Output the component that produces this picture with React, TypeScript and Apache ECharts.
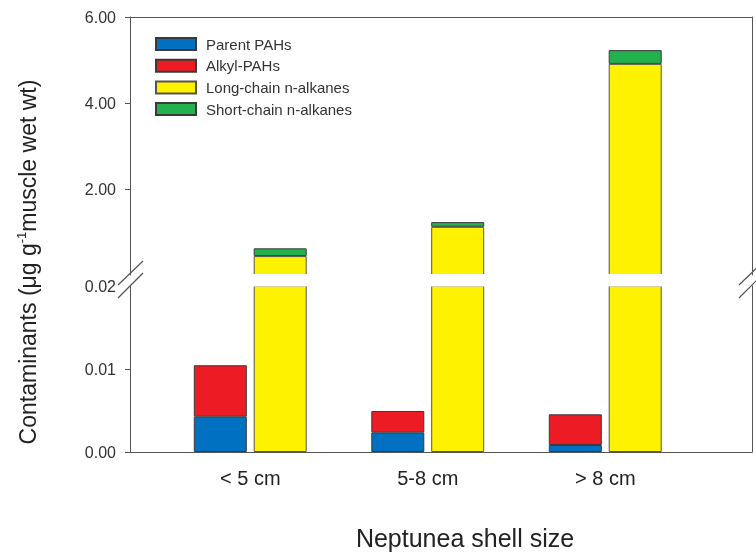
import React, { useEffect, useRef } from 'react';
import * as echarts from 'echarts';

const categories = ['< 5 cm', '5-8 cm', '> 8 cm'];
const parentPAHs = [0.00425, 0.00237, 0.00084];
const alkylPAHs = [0.0062, 0.00257, 0.0037];
const longChain = [0.44, 1.12, 4.91];
const shortChain = [0.18, 0.11, 0.32];
const upperTicks = [2, 4, 6];
const lowerTickMarks = [0, 0.01];
const seriesNames = ['Parent PAHs', 'Alkyl-PAHs', 'Long-chain n-alkanes', 'Short-chain n-alkanes'];
const empty = categories.map(() => '-');

const FONT = '"Liberation Sans", Arial, Helvetica, sans-serif';
const AXIS_COLOR = '#555';
const BORDER = '#3a3a3a';
const COLORS = ['#0070C0', '#ED1C24', '#FFF200', '#22B14C'];

export default function App() {
  const ref = useRef<HTMLDivElement>(null);
  useEffect(() => {
    if (!ref.current) return;
    const chart = echarts.init(ref.current, undefined, { renderer: 'svg' });
    const upperTop = 17, upperH = 258, lowerTop = 286, lowerH = 166;
    const frameLeft = 130, frameRight = 4;
    const barLeft = 161.5, barWidthGrid = 532.5;
    const lineStyle = { color: AXIS_COLOR, width: 1 };
    const hiddenAxis = { show: false };
    const barCommon = (i: number) => ({
      type: 'bar',
      barWidth: 53,
      barGap: '13%',
      clip: true,
      itemStyle: { color: COLORS[i], borderColor: i === 2 ? '#555' : BORDER, borderWidth: 1 },
      emphasis: { disabled: true },
    });
    const option: any = {
      animation: false,
      textStyle: { fontFamily: FONT },
      grid: [
        { left: frameLeft, right: frameRight, top: upperTop, height: upperH },
        { left: frameLeft, right: frameRight, top: lowerTop, height: lowerH },
        { left: barLeft, width: barWidthGrid, top: upperTop, height: upperH },
        { left: barLeft, width: barWidthGrid, top: lowerTop, height: lowerH },
      ],
      xAxis: [
        { gridIndex: 0, type: 'value', min: 0, max: 1, position: 'top', axisLine: { show: true, onZero: false, lineStyle }, axisTick: { show: false }, axisLabel: { show: false }, splitLine: { show: false } },
        { gridIndex: 1, type: 'value', min: 0, max: 1, position: 'bottom', axisLine: { show: true, onZero: false, lineStyle }, axisTick: { show: false }, axisLabel: { show: false }, splitLine: { show: false } },
        { gridIndex: 2, type: 'category', data: categories, ...hiddenAxis },
        { gridIndex: 3, type: 'category', data: categories, axisLine: { show: false }, axisTick: { show: false },
          axisLabel: { margin: 16, fontSize: 20, color: '#222', fontFamily: FONT } },
      ],
      yAxis: [
        { gridIndex: 0, type: 'value', min: 0, max: 6, interval: 2, position: 'left',
          axisLine: { show: true, onZero: false, lineStyle },
          axisTick: { show: true, inside: false, length: 5, lineStyle, customValues: upperTicks },
          axisLabel: { margin: 14, fontSize: 16, color: '#333', fontFamily: FONT, customValues: upperTicks,
            formatter: (v: number) => (v === 0 ? '' : v.toFixed(2)) },
          splitLine: { show: false } },
        { gridIndex: 0, type: 'value', min: 0, max: 6, position: 'right',
          axisLine: { show: true, onZero: false, lineStyle }, axisTick: { show: false }, axisLabel: { show: false }, splitLine: { show: false } },
        { gridIndex: 1, type: 'value', min: 0, max: 0.02, interval: 0.01, position: 'left',
          axisLine: { show: true, onZero: false, lineStyle },
          axisTick: { show: true, inside: false, length: 5, lineStyle, customValues: lowerTickMarks },
          axisLabel: { margin: 14, fontSize: 16, color: '#333', fontFamily: FONT,
            formatter: (v: number) => v.toFixed(2) },
          splitLine: { show: false } },
        { gridIndex: 1, type: 'value', min: 0, max: 0.02, position: 'right',
          axisLine: { show: true, onZero: false, lineStyle }, axisTick: { show: false }, axisLabel: { show: false }, splitLine: { show: false } },
        { gridIndex: 2, type: 'value', min: 0, max: 6, ...hiddenAxis },
        { gridIndex: 3, type: 'value', min: 0, max: 0.02, ...hiddenAxis },
      ],
      legend: {
        data: seriesNames,
        orient: 'vertical',
        left: 150,
        top: 31,
        itemWidth: 40,
        itemHeight: 12,
        itemGap: 5.7,
        icon: 'rect',
        selectedMode: false,
        textStyle: { fontSize: 15, color: '#333', fontFamily: FONT, lineHeight: 16, padding: [0, 0, 0, 5] },
      },
      series: [
        { ...barCommon(0), name: seriesNames[0], xAxisIndex: 3, yAxisIndex: 5, stack: 'pahLow', data: parentPAHs },
        { ...barCommon(1), name: seriesNames[1], xAxisIndex: 3, yAxisIndex: 5, stack: 'pahLow', data: alkylPAHs },
        { ...barCommon(2), name: seriesNames[2], xAxisIndex: 3, yAxisIndex: 5, stack: 'alkLow', data: longChain },
        { ...barCommon(3), name: seriesNames[3], xAxisIndex: 3, yAxisIndex: 5, stack: 'alkLow', data: shortChain },
        { ...barCommon(0), name: seriesNames[0], xAxisIndex: 2, yAxisIndex: 4, stack: 'pahUp', data: empty },
        { ...barCommon(1), name: seriesNames[1], xAxisIndex: 2, yAxisIndex: 4, stack: 'pahUp', data: empty },
        { ...barCommon(2), name: seriesNames[2], xAxisIndex: 2, yAxisIndex: 4, stack: 'alkUp', data: longChain },
        { ...barCommon(3), name: seriesNames[3], xAxisIndex: 2, yAxisIndex: 4, stack: 'alkUp', data: shortChain },
      ],
      graphic: [
        { type: 'rect', z: 100, shape: { x: 131, y: 274, width: 620, height: 12.6 }, style: { fill: '#fff' } },
        { type: 'line', z: 101, shape: { x1: 118, y1: 285, x2: 143, y2: 261 }, style: { stroke: AXIS_COLOR, lineWidth: 1.2 } },
        { type: 'line', z: 101, shape: { x1: 118, y1: 298, x2: 143, y2: 273 }, style: { stroke: AXIS_COLOR, lineWidth: 1.2 } },
        { type: 'line', z: 101, shape: { x1: 739, y1: 285, x2: 764, y2: 261 }, style: { stroke: AXIS_COLOR, lineWidth: 1.2 } },
        { type: 'line', z: 101, shape: { x1: 739, y1: 298, x2: 764, y2: 273 }, style: { stroke: AXIS_COLOR, lineWidth: 1.2 } },
        {
          type: 'text', z: 101, x: 28, y: 262, rotation: Math.PI / 2,
          style: {
            text: 'Contaminants (μg g{sup|-1}muscle wet wt)',
            fontSize: 23, fontFamily: FONT, fill: '#222', align: 'center', verticalAlign: 'middle',
            rich: { sup: { fontSize: 13, verticalAlign: 'top', fill: '#222', fontFamily: FONT, lineHeight: 26 } },
          },
        },
        {
          type: 'text', z: 101, x: 465, y: 538,
          style: { text: 'Neptunea shell size', fontSize: 25, fontFamily: FONT, fill: '#222', align: 'center', verticalAlign: 'middle' },
        },
      ],
    };
    chart.setOption(option);
    return () => chart.dispose();
  }, []);
  return <div ref={ref} style={{ position: 'fixed', left: 0, top: 0, width: 756, height: 552 }} />;
}
